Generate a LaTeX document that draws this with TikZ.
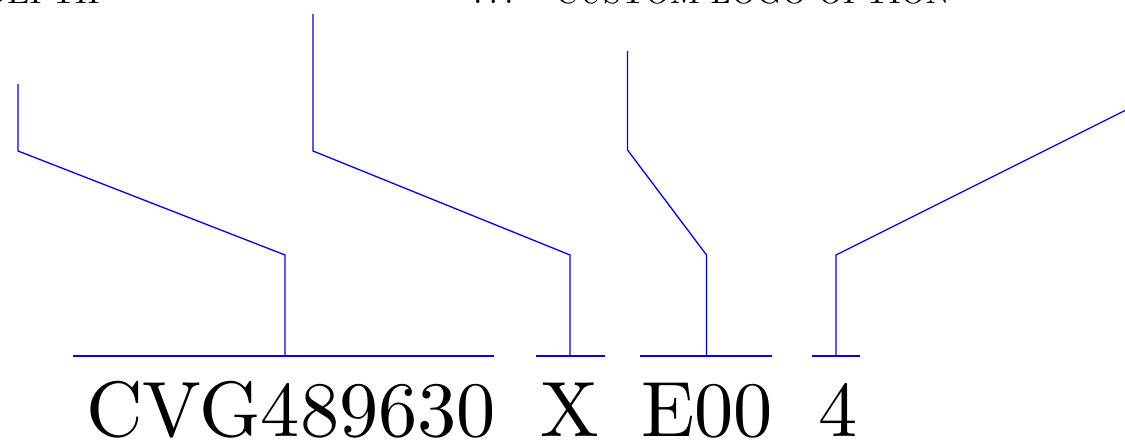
\documentclass[tikz,border=0pt]{standalone}
\usepackage{graphicx}
\newcommand{\bigcode}[1]{\scalebox{3.92}{\fontsize{10}{12}\selectfont #1}}
\newcommand{\toptext}[1]{\scalebox{1.625}{\fontsize{10}{12}\selectfont #1}}
\begin{document}
\begin{tikzpicture}[x=0.5pt,y=-0.5pt,
  lead/.style={draw=blue,line width=0.65pt,line join=miter},
  bar/.style={draw=blue,line width=0.65pt},
  code/.style={inner sep=0pt,anchor=base},
  toplabel/.style={inner sep=0pt}]
\useasboundingbox (0,0) rectangle (1125,448);
\clip (0,0) rectangle (1125,448);
% top labels (cut by the frame)
\node[toplabel,anchor=base east] (depth) at (100,4) {\toptext{DEPTH}};
\node[toplabel,anchor=base west] (dots) at (473,4) {\toptext{.\kern0.2em.\kern0.2em.}};
\node[toplabel,anchor=base west] (logo) at (555,4) {\toptext{CUSTOM LOGO OPTION}};
% code parts
\node[code] (c1) at (291,437) {\bigcode{CVG489630}};
\node[code] (c2) at (570,437) {\bigcode{X}};
\node[code] (c3) at (707,437) {\bigcode{E00}};
\node[code] (c4) at (838,437) {\bigcode{4}};
% bars
\coordinate (b1l) at (73,356);  \coordinate (b1r) at (494,356);
\coordinate (b2l) at (536,356); \coordinate (b2r) at (605,356);
\coordinate (b3l) at (640,356); \coordinate (b3r) at (772,356);
\coordinate (b4l) at (812,356); \coordinate (b4r) at (860,356);
\draw[bar] (b1l) -- (b1r);
\draw[bar] (b2l) -- (b2r);
\draw[bar] (b3l) -- (b3r);
\draw[bar] (b4l) -- (b4r);
% leaders
\coordinate (l1a) at (18,84);   \coordinate (l1b) at (18,151);  \coordinate (l1c) at (285,255);  \coordinate (l1d) at (285,356);
\coordinate (l2a) at (313,14);  \coordinate (l2b) at (313,151); \coordinate (l2c) at (570,255);  \coordinate (l2d) at (570,356);
\coordinate (l3a) at (627.5,51);\coordinate (l3b) at (627.5,150); \coordinate (l3c) at (706.5,255); \coordinate (l3d) at (706.5,356);
\coordinate (l4a) at (1125,110.5); \coordinate (l4c) at (836,255); \coordinate (l4d) at (836,356);
\draw[lead] (l1a) -- (l1b) -- (l1c) -- (l1d);
\draw[lead] (l2a) -- (l2b) -- (l2c) -- (l2d);
\draw[lead] (l3a) -- (l3b) -- (l3c) -- (l3d);
\draw[lead] (l4a) -- (l4c) -- (l4d);
\end{tikzpicture}
\end{document}
